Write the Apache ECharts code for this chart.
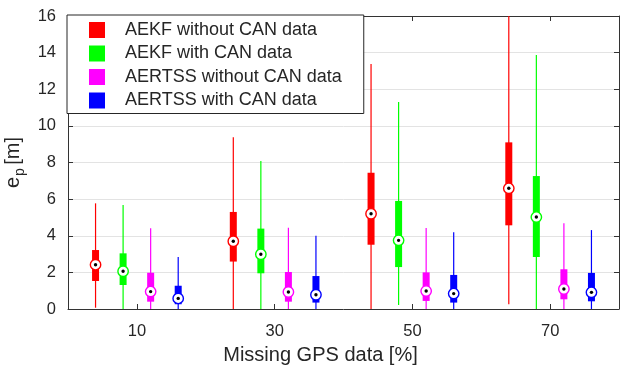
<!DOCTYPE html>
<html>
<head>
<meta charset="utf-8">
<script src="https://cdn.jsdelivr.net/npm/echarts@6/dist/echarts.min.js"></script>
<style>
  html, body { margin: 0; padding: 0; background: #fff; }
  #chart { width: 621px; height: 365px; }
</style>
</head>
<body>
<div id="chart"></div>
<script>
// x tick labels (missing GPS data %)
const groupTicks = [10, 30, 50, 70]

// box positions on the x axis for each method
const posAekfWithout = [4, 24, 44, 64]
const posAekfWith = [8, 28, 48, 68]
const posAertssWithout = [12, 32, 52, 72]
const posAertssWith = [16, 36, 56, 76]

// each row: [whisker low, q1, median, q3, whisker high]
const aekfWithout = [
  [0.07, 1.53, 2.42, 3.22, 5.77],
  [0, 2.59, 3.7, 5.3, 9.38],
  [0, 3.51, 5.2, 7.44, 13.38],
  [0.26, 4.57, 6.59, 9.1, 16]
]
const aekfWith = [
  [0, 1.31, 2.06, 3.04, 5.68],
  [0, 1.95, 2.99, 4.39, 8.08],
  [0.22, 2.29, 3.75, 5.9, 11.3],
  [0, 2.84, 5.02, 7.26, 13.87]
]
const aertssWithout = [
  [0, 0.4, 0.95, 1.98, 4.41],
  [0, 0.4, 0.93, 2.02, 4.44],
  [0, 0.44, 0.98, 2.0, 4.42],
  [0, 0.53, 1.09, 2.17, 4.68]
]
const aertssWith = [
  [0, 0.26, 0.58, 1.27, 2.84],
  [0, 0.35, 0.78, 1.8, 4.0],
  [0, 0.35, 0.84, 1.86, 4.19],
  [0, 0.42, 0.91, 1.97, 4.31]
]

const seriesNames = ['AEKF without CAN data', 'AEKF with CAN data', 'AERTSS without CAN data', 'AERTSS with CAN data']
const seriesColors = ['#ff0000', '#00ff00', '#ff00ff', '#0000ff']

const axisColor = '#333333'
const textColor = '#262626'
const font = '"Liberation Sans", Arial, Helvetica, sans-serif'

// draw one box: whisker line, thick box, white median ring with black dot
const renderBox = (params, api) => {
  const x = api.value(0)
  const lo = api.coord([x, api.value(1)])
  const q1 = api.coord([x, api.value(2)])
  const med = api.coord([x, api.value(3)])
  const q3 = api.coord([x, api.value(4)])
  const hi = api.coord([x, api.value(5)])
  const color = api.visual('color')
  const bw = 7
  return {
    type: 'group',
    children: [
      {
        type: 'line',
        shape: { x1: lo[0], y1: lo[1], x2: hi[0], y2: hi[1] },
        style: { stroke: color, lineWidth: 1.2 }
      },
      {
        type: 'rect',
        shape: { x: q3[0] - bw / 2, y: q3[1], width: bw, height: q1[1] - q3[1] },
        style: { fill: color }
      },
      {
        type: 'circle',
        shape: { cx: med[0], cy: med[1], r: 5.2 },
        style: { fill: '#ffffff', stroke: color, lineWidth: 1.4 }
      },
      {
        type: 'circle',
        shape: { cx: med[0], cy: med[1], r: 1.7 },
        style: { fill: '#000000' }
      }
    ]
  }
}

const makeSeries = (name, color, positions, rows) => ({
  name: name,
  type: 'custom',
  xAxisIndex: 0,
  yAxisIndex: 0,
  clip: true,
  itemStyle: { color: color },
  renderItem: renderBox,
  encode: { x: 0, y: [1, 2, 3, 4, 5] },
  data: rows.map((r, i) => [positions[i]].concat(r))
})

const chart = echarts.init(document.getElementById('chart'), null, { renderer: 'canvas' })

const option = {
  animation: false,
  backgroundColor: '#ffffff',
  textStyle: { fontFamily: font },
  grid: { left: 68, right: 2, top: 16, bottom: 56, containLabel: false, outerBoundsMode: 'none' },
  legend: {
    data: seriesNames,
    orient: 'vertical',
    left: 67,
    top: 15,
    icon: 'rect',
    itemWidth: 16,
    itemHeight: 16,
    itemGap: 5.5,
    padding: [6, 22, 4, 22],
    backgroundColor: '#ffffff',
    borderColor: '#262626',
    borderWidth: 1,
    borderRadius: 0,
    textStyle: {
      fontFamily: font,
      fontSize: 18,
      lineHeight: 17.5,
      color: textColor,
      padding: [0, 0, 0, 15]
    }
  },
  xAxis: [
    {
      type: 'value',
      min: 0,
      max: 80,
      name: 'Missing GPS data [%]',
      nameLocation: 'middle',
      nameGap: 36,
      nameTextStyle: { fontFamily: font, fontSize: 20, color: textColor, padding: [0, 46, 0, 0] },
      axisLine: { show: true, onZero: false, lineStyle: { color: axisColor, width: 1 } },
      axisTick: { show: true, inside: true, length: 5, customValues: groupTicks, lineStyle: { color: axisColor } },
      axisLabel: { customValues: groupTicks, margin: 14, fontFamily: font, fontSize: 16.5, color: textColor },
      splitLine: { show: false }
    },
    {
      type: 'value',
      position: 'top',
      min: 0,
      max: 80,
      axisLine: { show: true, onZero: false, lineStyle: { color: axisColor, width: 1 } },
      axisTick: { show: true, inside: true, length: 5, customValues: groupTicks, lineStyle: { color: axisColor } },
      axisLabel: { show: false },
      splitLine: { show: false }
    }
  ],
  yAxis: [
    {
      type: 'value',
      min: 0,
      max: 16,
      interval: 2,
      name: '{a|e}{b|p} {a|[m]}',
      nameLocation: 'middle',
      nameGap: 27,
      nameTextStyle: {
        color: textColor,
        rich: {
          a: { fontFamily: font, fontSize: 20, lineHeight: 20, color: textColor, verticalAlign: 'top' },
          b: { fontFamily: font, fontSize: 14, lineHeight: 14, color: textColor, padding: [12, 0, 0, 1], verticalAlign: 'middle' }
        }
      },
      axisLine: { show: true, onZero: false, lineStyle: { color: axisColor, width: 1 } },
      axisTick: { show: true, inside: true, length: 5, lineStyle: { color: axisColor } },
      axisLabel: { margin: 12, fontFamily: font, fontSize: 16.5, color: textColor },
      splitLine: { show: true, lineStyle: { color: '#e3e3e3', width: 1 } }
    },
    {
      type: 'value',
      position: 'right',
      min: 0,
      max: 16,
      interval: 2,
      axisLine: { show: true, onZero: false, lineStyle: { color: axisColor, width: 1 } },
      axisTick: { show: true, inside: true, length: 5, lineStyle: { color: axisColor } },
      axisLabel: { show: false },
      splitLine: { show: false }
    }
  ],
  series: [
    makeSeries(seriesNames[0], seriesColors[0], posAekfWithout, aekfWithout),
    makeSeries(seriesNames[1], seriesColors[1], posAekfWith, aekfWith),
    makeSeries(seriesNames[2], seriesColors[2], posAertssWithout, aertssWithout),
    makeSeries(seriesNames[3], seriesColors[3], posAertssWith, aertssWith)
  ]
}

chart.setOption(option)
</script>
</body>
</html>
